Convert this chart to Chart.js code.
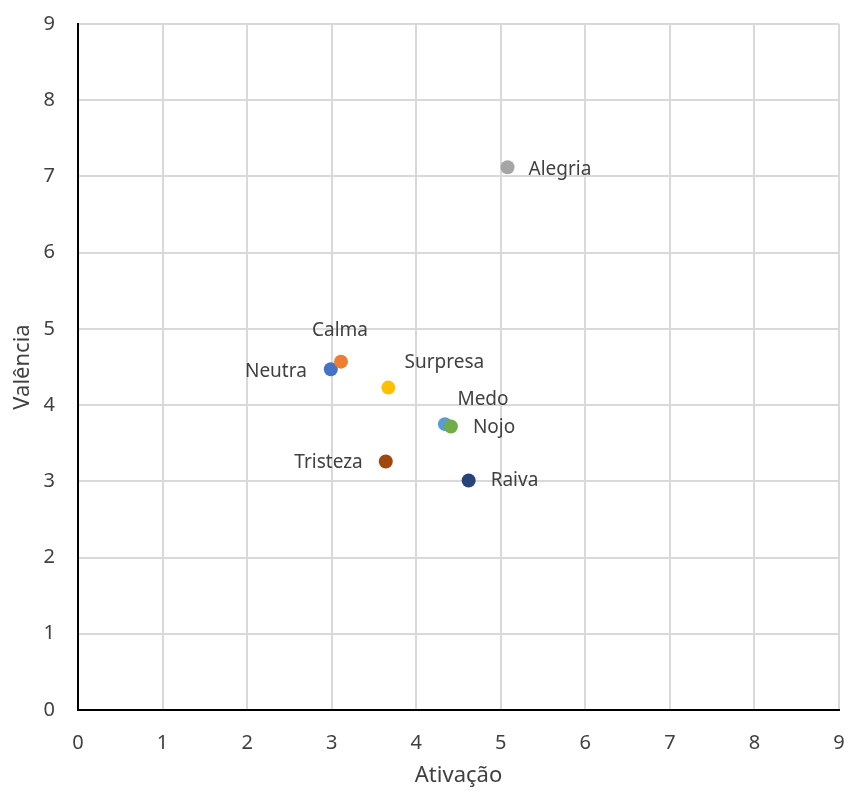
<!DOCTYPE html>
<html>
<head>
<meta charset="utf-8">
<script src="https://cdn.jsdelivr.net/npm/chart.js@4"></script>
<style>
  body { margin: 0; background: #fff; }
  #wrap { width: 849px; height: 792px; }
</style>
</head>
<body>
<div id="wrap"><canvas id="emotionChart" width="849" height="792"></canvas></div>
<script>
// data
const emotions   = ['Neutra', 'Calma', 'Alegria', 'Surpresa', 'Medo', 'Nojo', 'Raiva', 'Tristeza'];
const activation = [2.99, 3.11, 5.08, 3.67, 4.34, 4.41, 4.62, 3.64];
const valence    = [4.47, 4.57, 7.12, 4.23, 3.75, 3.72, 3.01, 3.26];
const axisTicks  = [0, 1, 2, 3, 4, 5, 6, 7, 8, 9];

// Excel-ish series colours
const pointColors = ['#4472C4', '#ED7D31', '#A5A5A5', '#FFC000', '#5B9BD5', '#70AD47', '#264478', '#9E480E'];

// where each label sits relative to its point (style only)
const labelPlacement = {
  Neutra:   { dx: -24, dy: 2,   align: 'right' },
  Calma:    { dx: -1,  dy: -31, align: 'center' },
  Alegria:  { dx: 21,  dy: 2,   align: 'left' },
  Surpresa: { dx: 56,  dy: -25, align: 'center' },
  Medo:     { dx: 38,  dy: -25, align: 'center' },
  Nojo:     { dx: 22,  dy: 1,   align: 'left' },
  Raiva:    { dx: 22,  dy: 0,   align: 'left' },
  Tristeza: { dx: -23, dy: 1,   align: 'right' }
};

const textColor = '#404040';
const fontFamily = "'Noto Sans', sans-serif";

const pointLabels = {
  id: 'pointLabels',
  afterDatasetsDraw(chart) {
    const ctx = chart.ctx;
    const meta = chart.getDatasetMeta(0);
    ctx.save();
    ctx.font = `19px ${fontFamily}`;
    ctx.fillStyle = textColor;
    ctx.textBaseline = 'middle';
    meta.data.forEach((pt, i) => {
      const place = labelPlacement[emotions[i]];
      ctx.textAlign = place.align;
      ctx.fillText(emotions[i], pt.x + place.dx, pt.y + place.dy);
    });
    ctx.restore();
  }
};

const ctx = document.getElementById('emotionChart').getContext('2d');

new Chart(ctx, {
  type: 'scatter',
  data: {
    datasets: [{
      data: emotions.map((_, i) => ({ x: activation[i], y: valence[i] })),
      pointBackgroundColor: pointColors,
      pointBorderColor: pointColors,
      pointRadius: 7,
      pointBorderWidth: 0
    }]
  },
  options: {
    responsive: false,
    animation: false,
    layout: { padding: { top: 24, right: 10, left: 0, bottom: 0 } },
    plugins: {
      legend: { display: false },
      tooltip: { enabled: false }
    },
    scales: {
      x: {
        type: 'linear',
        min: 0,
        max: 9,
        afterBuildTicks: scale => { scale.ticks = axisTicks.map(v => ({ value: v })); },
        afterFit: scale => {
          scale.height = 82;
          scale.paddingLeft = 0;
          scale.paddingRight = 0;
        },
        grid: { color: '#d9d9d9', lineWidth: 2, drawTicks: false },
        border: { color: '#000', width: 2 },
        ticks: { color: textColor, padding: 21, font: { family: fontFamily, size: 20 } },
        title: {
          display: true,
          text: 'Ativação',
          color: textColor,
          padding: { bottom: 3 },
          font: { family: fontFamily, size: 22 }
        }
      },
      y: {
        type: 'linear',
        min: 0,
        max: 9,
        afterBuildTicks: scale => { scale.ticks = axisTicks.map(v => ({ value: v })); },
        afterFit: scale => {
          scale.width = 78;
          scale.paddingTop = 0;
          scale.paddingBottom = 0;
        },
        grid: { color: '#d9d9d9', lineWidth: 2, drawTicks: false },
        border: { color: '#000', width: 2 },
        ticks: { color: textColor, padding: 23, font: { family: fontFamily, size: 20 } },
        title: {
          display: true,
          text: 'Valência',
          color: textColor,
          padding: { top: 10 },
          font: { family: fontFamily, size: 22 }
        }
      }
    }
  },
  plugins: [pointLabels]
});
</script>
</body>
</html>
